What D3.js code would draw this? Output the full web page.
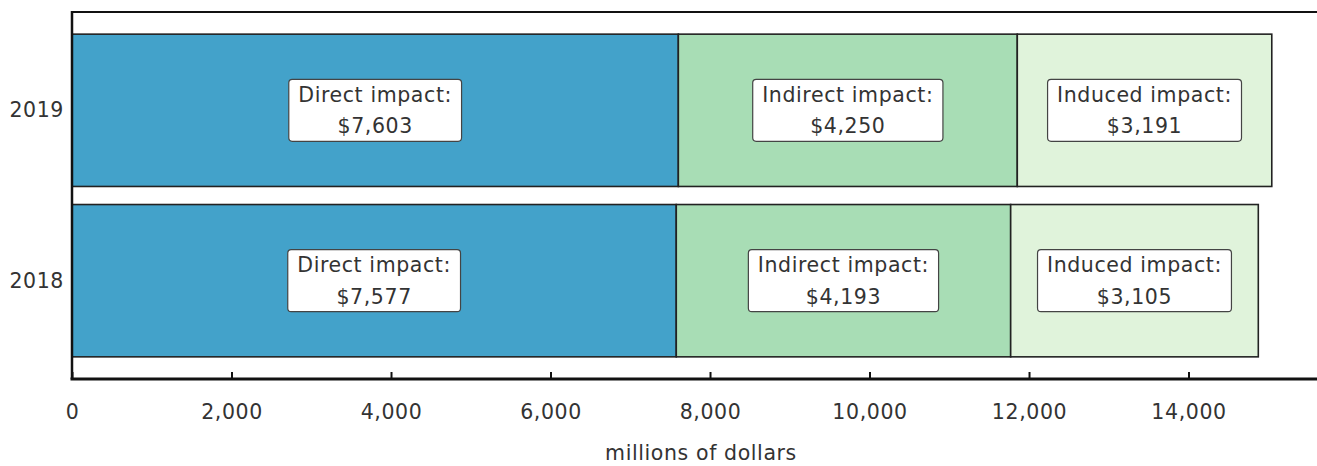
<!DOCTYPE html>
<html>
<head>
<meta charset="utf-8">
<script src="https://cdn.jsdelivr.net/npm/d3@7"></script>
<style>
  html, body { margin: 0; padding: 0; background: #fff; }
  svg { display: block; }
  text { font-family: "DejaVu Sans", Verdana, sans-serif; fill: #333; }
</style>
</head>
<body>
<svg id="chart" width="1317" height="466"></svg>
<script>
// Economic impact by year, millions of dollars
const years = ["2019", "2018"];
const impactTypes = ["Direct impact", "Indirect impact", "Induced impact"];
const directValues = [7603, 7577];
const indirectValues = [4250, 4193];
const inducedValues = [3191, 3105];
const xTickValues = [0, 2000, 4000, 6000, 8000, 10000, 12000, 14000];
const axisTitle = "millions of dollars";
const colors = ["#43a2ca", "#a8ddb5", "#e0f3db"];

(function () {
  const svg = d3.select("#chart");
  const W = 1317;
  const mLeft = 72, mRight = 1330, mTop = 12, mBottom = 379;

  const rows = years.map((y, i) => ({
    year: y,
    values: [directValues[i], indirectValues[i], inducedValues[i]]
  }));

  const stack = d3.stack().keys([0, 1, 2]).value((d, k) => d.values[k]);
  const series = stack(rows);

  const x = d3.scaleLinear().domain([0, 15774]).range([mLeft, mRight]);
  const y = d3.scaleBand().domain(years).range([mTop, mBottom])
    .paddingInner(0.106).paddingOuter(0.13);

  const fmt = d3.format(",");
  const fontSize = "20.5px";
  const spacing = "0.6px";

  // top frame line
  svg.append("line")
    .attr("x1", mLeft).attr("x2", W + 10)
    .attr("y1", mTop).attr("y2", mTop)
    .attr("stroke", "#111").attr("stroke-width", 2);

  // stacked bar segments
  series.forEach((s, k) => {
    svg.append("g").selectAll("rect").data(s).join("rect")
      .attr("x", d => x(d[0]))
      .attr("y", d => y(d.data.year))
      .attr("width", d => x(d[1]) - x(d[0]))
      .attr("height", y.bandwidth())
      .attr("fill", colors[k])
      .attr("stroke", "#222")
      .attr("stroke-width", 1.6);
  });

  // value callouts
  series.forEach((s, k) => {
    s.forEach(d => {
      const cx = (x(d[0]) + x(d[1])) / 2;
      const cy = y(d.data.year) + y.bandwidth() / 2;
      const g = svg.append("g");
      const box = g.append("rect");
      const t1 = g.append("text")
        .attr("x", cx).attr("y", cy - 8.5)
        .attr("text-anchor", "middle")
        .style("font-size", fontSize).style("letter-spacing", spacing)
        .text(impactTypes[k] + ":");
      const t2 = g.append("text")
        .attr("x", cx).attr("y", cy + 23)
        .attr("text-anchor", "middle")
        .style("font-size", fontSize).style("letter-spacing", spacing)
        .text("$" + fmt(d.data.values[k]));
      const w = Math.max(t1.node().getComputedTextLength(), t2.node().getComputedTextLength()) + 19;
      box.attr("x", cx - w / 2).attr("y", cy - 31)
        .attr("width", w).attr("height", 62)
        .attr("rx", 3.5).attr("ry", 3.5)
        .attr("fill", "#fff")
        .attr("stroke", "#444").attr("stroke-width", 1.2);
    });
  });

  // x axis with inward ticks
  const xAxis = d3.axisBottom(x).tickValues(xTickValues).tickFormat(fmt)
    .tickSize(-7).tickPadding(0).tickSizeOuter(0);
  const gx = svg.append("g").attr("transform", `translate(0,${mBottom})`).call(xAxis);
  gx.select(".domain").remove();
  gx.attr("font-family", null).attr("font-size", null);
  gx.selectAll(".tick line").attr("stroke", "#111").attr("stroke-width", 2);
  gx.selectAll(".tick text")
    .attr("y", 40).attr("dy", null)
    .attr("fill", "#333")
    .style("font-size", fontSize).style("letter-spacing", spacing);
  svg.append("line")
    .attr("x1", mLeft - 1.5).attr("x2", W + 10)
    .attr("y1", mBottom).attr("y2", mBottom)
    .attr("stroke", "#111").attr("stroke-width", 3);

  // y axis line and category labels
  svg.append("line")
    .attr("x1", mLeft).attr("x2", mLeft)
    .attr("y1", mTop - 1).attr("y2", mBottom)
    .attr("stroke", "#111").attr("stroke-width", 2.5);
  svg.append("g").selectAll("text").data(years).join("text")
    .attr("x", 64)
    .attr("y", d => y(d) + y.bandwidth() / 2 + 7)
    .attr("text-anchor", "end")
    .style("font-size", fontSize).style("letter-spacing", spacing)
    .text(d => d);

  // axis title
  svg.append("text")
    .attr("x", (mLeft + mRight) / 2).attr("y", 460)
    .attr("text-anchor", "middle")
    .style("font-size", fontSize).style("letter-spacing", spacing)
    .text(axisTitle);
})();
</script>
</body>
</html>
